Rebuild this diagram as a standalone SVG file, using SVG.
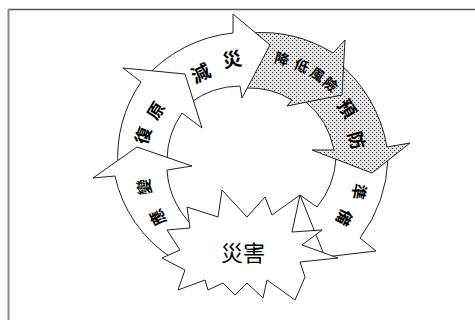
<svg xmlns="http://www.w3.org/2000/svg" width="475" height="320" viewBox="0 0 475 320">
<defs>
<pattern id="dots" width="4" height="4" patternUnits="userSpaceOnUse">
<rect width="4" height="4" fill="#e4e4e4"/>
<rect x="0" y="0" width="1" height="1" fill="#333"/>
<rect x="2" y="2" width="1" height="1" fill="#333"/>
</pattern>
</defs>
<style>
.arr{fill:#fff;stroke:#222;stroke-width:1;stroke-linejoin:miter}
.sh{fill:url(#dots);stroke:#222;stroke-width:1}
.lb{font-family:"Noto Sans CJK TC","Noto Sans CJK SC",sans-serif;font-weight:bold;fill:#000;text-anchor:middle;dominant-baseline:central}
.burst{fill:#fff;stroke:#222;stroke-width:1}
.bt{font-family:"Noto Sans CJK TC","Noto Sans CJK SC",serif;font-size:22px;fill:#000;text-anchor:middle;dominant-baseline:central}
</style>
<rect width="475" height="320" fill="#fff"/>
<line x1="8" y1="9.5" x2="475" y2="9.5" stroke="#555" stroke-width="1.5"/>
<line x1="8.5" y1="9" x2="8.5" y2="320" stroke="#888" stroke-width="2"/>

<g id="connectors"/>

<g id="arrow-prepare">
<path class="arr" d="M 388,158 A 140 140 0 0 1 360,238 L 376,251 L 325,257 L 300,195 L 317,207 A 84 84 0 0 0 336,158 Z"/>
<text class="lb" font-size="16" transform="translate(360,192) rotate(101)">準</text>
<text class="lb" font-size="16" transform="translate(345,218) rotate(117)">備</text>
</g>

<g id="arrow-prevent">
<path class="sh" d="M 335,60 A 140 140 0 0 1 387,147 L 410,143 L 372,173 L 312,150 L 334,150 A 84 84 0 0 0 305,101 Z"/>
<text class="lb" font-size="18" transform="translate(348,108) rotate(57)">預</text>
<text class="lb" font-size="18" transform="translate(358,140) rotate(74)">防</text>
</g>

<g id="arrow-reduce-risk">
<path class="sh" d="M 250,33 A 137 137 0 0 1 333,53 L 345,40 L 342,95 L 287,106 L 292,100 A 82 82 0 0 0 246,88 Z"/>
<text class="lb" font-size="14" transform="translate(282,58) rotate(15)">降</text>
<text class="lb" font-size="14" transform="translate(302,65) rotate(25)">低</text>
<text class="lb" font-size="14" transform="translate(318,74) rotate(34)">風</text>
<text class="lb" font-size="14" transform="translate(331,84) rotate(42)">險</text>
</g>

<g id="arrow-mitigation">
<path class="arr" d="M 145,78 A 137 137 0 0 1 233,33 L 233,14 L 270,45 L 242,98 L 240,86 A 84 84 0 0 0 190,103 Z"/>
<text class="lb" font-size="19" transform="translate(200,72) rotate(-26)">減</text>
<text class="lb" font-size="19" transform="translate(232,58) rotate(-10)">災</text>
</g>

<g id="arrow-recovery">
<path class="arr" d="M 118,168 A 137 137 0 0 1 141,82 L 123,68 L 185,74 L 202,128 L 182,113 A 84 84 0 0 0 167,160 Z"/>
<text class="lb" font-size="17" transform="translate(142,135) rotate(-72)">復</text>
<text class="lb" font-size="17" transform="translate(155,110) rotate(-58)">原</text>
</g>

<g id="arrow-response">
<path class="arr" d="M 172,258 A 130 130 0 0 1 115,176 L 93,178 L 137,147 L 192,166 L 167,170 A 84 84 0 0 0 200,232 Z"/>
<text class="lb" font-size="16" transform="translate(143,187) rotate(-99)">變</text>
<text class="lb" font-size="16" transform="translate(157,218) rotate(-117)">應</text>
</g>

<g id="disaster">
<polygon class="burst" points="187,207 218,217 222,190 247,217 265,197 272,215 300,195 292,232 322,230 302,245 338,258 300,262 305,277 295,300 267,280 263,298 247,283 235,295 223,283 208,290 205,280 178,290 185,270 162,258 180,250 167,230 190,228"/>
<text class="bt" x="243" y="251">災害</text>
</g>
</svg>
